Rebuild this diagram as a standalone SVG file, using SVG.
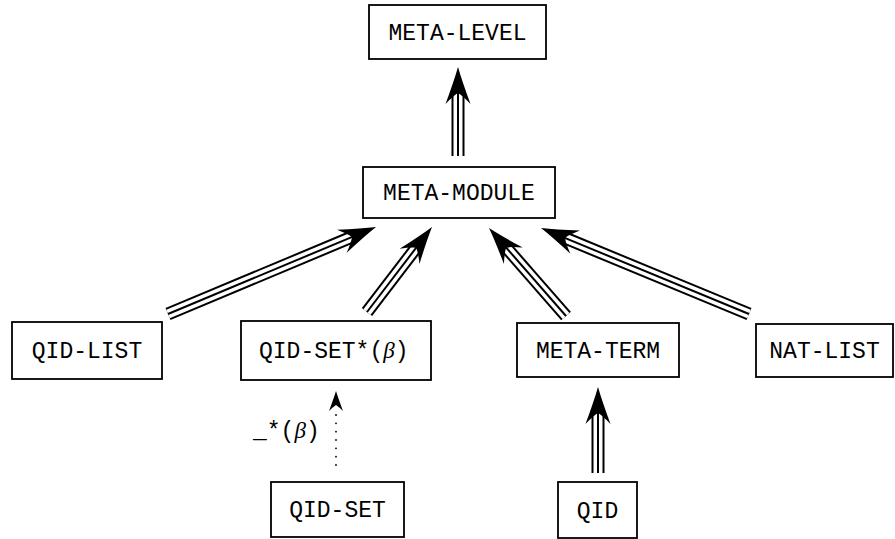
<svg xmlns="http://www.w3.org/2000/svg" xmlns:xlink="http://www.w3.org/1999/xlink" width="895" height="539" viewBox="0 0 895 539">
<style>
  .box { fill: #fff; stroke: #000; stroke-width: 1.8; }
  .lbl { font-family: "Liberation Mono", "DejaVu Sans Mono", monospace; font-size: 23px; fill: #000; text-anchor: middle; }
  .lbls { font-family: "Liberation Mono", "DejaVu Sans Mono", monospace; font-size: 23px; fill: #000; }
  .greek { font-family: "Liberation Serif", "DejaVu Serif", serif; font-style: italic; }
  .s1 { stroke: #000; stroke-width: 13; fill: none; }
  .s2 { stroke: #fff; stroke-width: 9; fill: none; }
  .s3 { stroke: #000; stroke-width: 2; fill: none; }
  .dot { fill: #000; }
</style>
<defs>
  <path id="head" d="M0,0 Q-14,-4 -37,-12.5 Q-29,-5 -26,0 Q-29,5 -37,12.5 Q-14,4 0,0 Z" fill="#000"/>
  <path id="smallhead" d="M0,0 Q-8,-2.5 -20,-7 Q-16,-3 -14,0 Q-16,3 -20,7 Q-8,2.5 0,0 Z" fill="#000"/>
</defs>
<rect width="895" height="539" fill="#fff"/>

<g id="connectors">
  <g id="e-module-level">
    <line class="s1" x1="458" y1="156" x2="458" y2="92"/>
    <line class="s2" x1="458" y1="156" x2="458" y2="92"/>
    <line class="s3" x1="458" y1="156" x2="458" y2="92"/>
    <use href="#head" xlink:href="#head" transform="translate(458,67) rotate(-90)"/>
  </g>
  <g id="e-qidlist-module">
    <line class="s1" x1="168" y1="314" x2="352.9" y2="236.6"/>
    <line class="s2" x1="168" y1="314" x2="352.9" y2="236.6"/>
    <line class="s3" x1="168" y1="314" x2="352.9" y2="236.6"/>
    <use href="#head" xlink:href="#head" transform="translate(376,227) rotate(-22.7)"/>
  </g>
  <g id="e-qidsetstar-module">
    <line class="s1" x1="367" y1="312" x2="416.8" y2="246.9"/>
    <line class="s2" x1="367" y1="312" x2="416.8" y2="246.9"/>
    <line class="s3" x1="367" y1="312" x2="416.8" y2="246.9"/>
    <use href="#head" xlink:href="#head" transform="translate(432,227) rotate(-52.59)"/>
  </g>
  <g id="e-metaterm-module">
    <line class="s1" x1="566" y1="316" x2="505.5" y2="246.8"/>
    <line class="s2" x1="566" y1="316" x2="505.5" y2="246.8"/>
    <line class="s3" x1="566" y1="316" x2="505.5" y2="246.8"/>
    <use href="#head" xlink:href="#head" transform="translate(489,228) rotate(-131.19)"/>
  </g>
  <g id="e-natlist-module">
    <line class="s1" x1="749" y1="314" x2="564.1" y2="237.6"/>
    <line class="s2" x1="749" y1="314" x2="564.1" y2="237.6"/>
    <line class="s3" x1="749" y1="314" x2="564.1" y2="237.6"/>
    <use href="#head" xlink:href="#head" transform="translate(541,228) rotate(-157.53)"/>
  </g>
  <g id="e-qid-metaterm">
    <line class="s1" x1="598" y1="473" x2="598" y2="412"/>
    <line class="s2" x1="598" y1="473" x2="598" y2="412"/>
    <line class="s3" x1="598" y1="473" x2="598" y2="412"/>
    <use href="#head" xlink:href="#head" transform="translate(598,387) rotate(-90)"/>
  </g>
  <g id="e-qidset-qidsetstar">
    <circle class="dot" cx="336" cy="415" r="0.9"/>
    <circle class="dot" cx="336" cy="423.3" r="0.9"/>
    <circle class="dot" cx="336" cy="431.7" r="0.9"/>
    <circle class="dot" cx="336" cy="440" r="0.9"/>
    <circle class="dot" cx="336" cy="448.3" r="0.9"/>
    <circle class="dot" cx="336" cy="456.7" r="0.9"/>
    <circle class="dot" cx="336" cy="465" r="0.9"/>
    <use href="#smallhead" xlink:href="#smallhead" transform="translate(336,391) rotate(-90)"/>
    <text class="lbls" x="253" y="438">_*(<tspan class="greek">β</tspan>)</text>
  </g>
</g>

<g id="meta-level">
  <rect class="box" x="369" y="5" width="177" height="54"/>
  <text class="lbl" x="457.5" y="39.6">META-LEVEL</text>
</g>
<g id="meta-module">
  <rect class="box" x="363" y="167" width="192" height="51"/>
  <text class="lbl" x="459" y="200">META-MODULE</text>
</g>
<g id="qid-list">
  <rect class="box" x="12" y="322" width="150" height="57"/>
  <text class="lbl" x="87" y="358">QID-LIST</text>
</g>
<g id="qid-set-star">
  <rect class="box" x="241" y="321" width="190" height="59"/>
  <text class="lbls" x="259" y="358">QID-SET*(<tspan class="greek">β</tspan>)</text>
</g>
<g id="meta-term">
  <rect class="box" x="517" y="323" width="162" height="54"/>
  <text class="lbl" x="598" y="357.6">META-TERM</text>
</g>
<g id="nat-list">
  <rect class="box" x="756" y="324" width="137" height="53"/>
  <text class="lbl" x="824.5" y="358">NAT-LIST</text>
</g>
<g id="qid-set">
  <rect class="box" x="271" y="482" width="133" height="55"/>
  <text class="lbl" x="337.5" y="517">QID-SET</text>
</g>
<g id="qid">
  <rect class="box" x="558" y="482" width="79" height="56"/>
  <text class="lbl" x="597.5" y="517.6">QID</text>
</g>
</svg>
